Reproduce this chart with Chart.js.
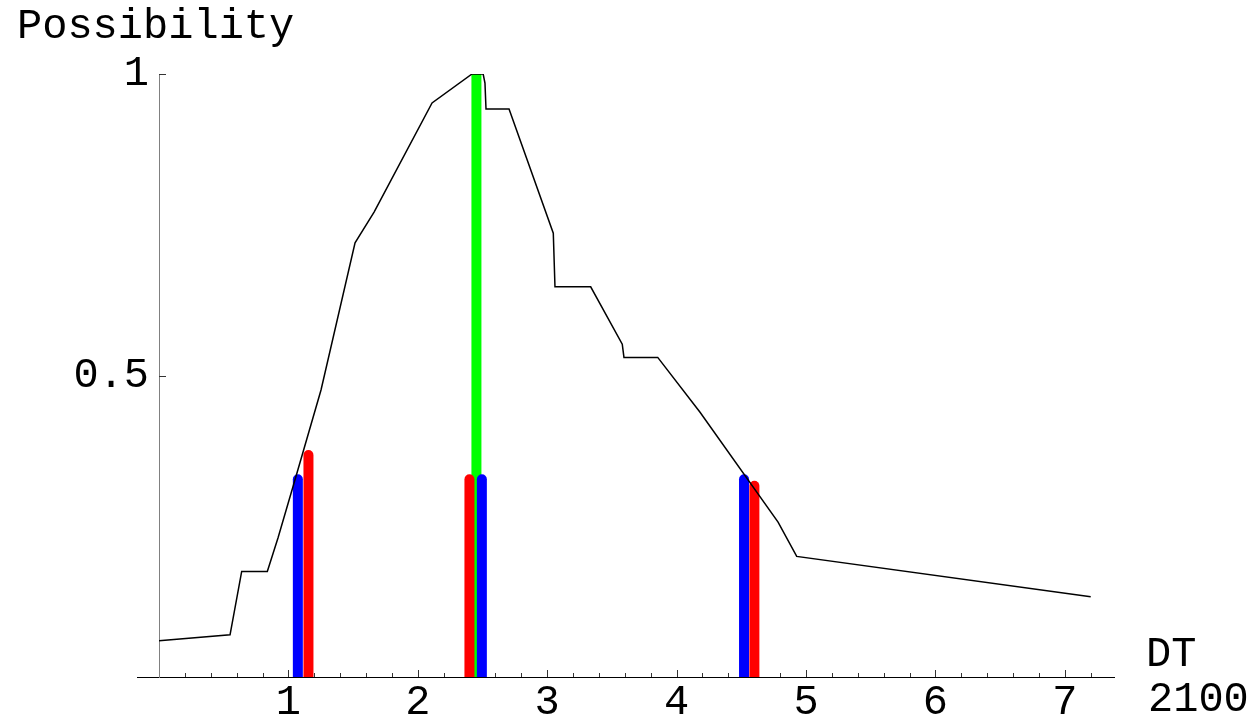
<!DOCTYPE html>
<html>
<head>
<meta charset="utf-8">
<script src="https://cdn.jsdelivr.net/npm/chart.js@4/dist/chart.umd.min.js"></script>
<style>
  html, body { margin: 0; padding: 0; background: #fff; }
  #wrap { width: 1252px; height: 720px; position: relative; }
</style>
</head>
<body>
<div id="wrap"><canvas id="c"></canvas></div>
<script>
// ---- data ----
const curveX = [0, 0.549, 0.639, 0.837, 0.920, 1.051, 1.252, 1.515, 1.662, 2.110, 2.419, 2.505, 2.519, 2.527, 2.705, 3.047, 3.060, 3.336, 3.580, 3.593, 3.854, 4.181, 4.784, 4.928, 7.200];
const curveY = [0.060, 0.070, 0.175, 0.175, 0.231, 0.327, 0.476, 0.720, 0.771, 0.952, 1.000, 1.000, 0.985, 0.942, 0.942, 0.736, 0.647, 0.647, 0.552, 0.530, 0.530, 0.439, 0.257, 0.200, 0.133];

const blueX   = [1.073, 2.495, 4.521];
const blueTop = [0.328, 0.328, 0.328];
const redX    = [1.155, 2.399, 4.601];
const redTop  = [0.368, 0.328, 0.317];
const greenX  = [2.453];
const greenTop = [1.0];

const xTickLabels = [1, 2, 3, 4, 5, 6, 7];
const yTickLabels = [0.5, 1];
const yTitle = 'Possibility';
const xTitle = ['DT', '2100'];

// ---- build datasets ----
const datasets = [];
datasets.push({
  label: 'possibility',
  data: curveX.map((x, i) => ({ x: x, y: curveY[i] })),
  showLine: true, borderColor: '#000', borderWidth: 1.5, pointRadius: 0, fill: false, tension: 0
});
function addBars(xs, tops, color) {
  xs.forEach((x, i) => {
    datasets.push({
      label: 'bar',
      data: [{ x: x, y: 0 }, { x: x, y: tops[i] }],
      showLine: true, borderColor: color, borderWidth: 10, borderCapStyle: 'round',
      pointRadius: 0, fill: false, clip: 0
    });
  });
}
addBars(redX, redTop, '#ff0000');
addBars(blueX, blueTop, '#0000ff');
addBars(greenX, greenTop, '#00ff00');

const FONT = '"Liberation Mono", "DejaVu Sans Mono", monospace';

const decor = {
  id: 'decor',
  beforeDatasetsDraw(chart) {
    const ctx = chart.ctx, xs = chart.scales.x, ys = chart.scales.y;
    const y0 = ys.getPixelForValue(0);
    const ax = xs.getPixelForValue(0);
    ctx.save();
    ctx.lineWidth = 1;
    // x axis continues a little to the left of the y axis
    ctx.strokeStyle = '#000';
    ctx.beginPath();
    ctx.moveTo(xs.getPixelForValue(-0.17), Math.round(y0) + 0.5);
    ctx.lineTo(ax, Math.round(y0) + 0.5);
    ctx.stroke();
    ctx.strokeStyle = '#333';
    // x ticks (inside, pointing up)
    for (let k = 1; k <= 36; k++) {
      const v = k / 5;
      const major = k % 5 === 0;
      const px = Math.round(xs.getPixelForValue(v)) + 0.5;
      ctx.beginPath();
      ctx.moveTo(px, y0);
      ctx.lineTo(px, y0 - (major ? 7 : 4));
      ctx.stroke();
    }
    // y ticks (inside, pointing right)
    yTickLabels.forEach(v => {
      const py = Math.round(ys.getPixelForValue(v)) + 0.5;
      ctx.beginPath();
      ctx.moveTo(ax, py);
      ctx.lineTo(ax + 7, py);
      ctx.stroke();
    });
    ctx.restore();
  },
  afterDraw(chart) {
    const ctx = chart.ctx, ca = chart.chartArea;
    ctx.save();
    ctx.fillStyle = '#000';
    ctx.font = '42px ' + FONT;
    ctx.textAlign = 'left';
    ctx.textBaseline = 'alphabetic';
    ctx.fillText(yTitle, 17, 38);
    ctx.fillText(xTitle[0], ca.right + 32, ca.bottom - 11);
    ctx.fillText(xTitle[1], ca.right + 34, ca.bottom + 34);
    ctx.restore();
  }
};

new Chart(document.getElementById('c'), {
  type: 'scatter',
  data: { datasets: datasets },
  plugins: [decor],
  options: {
    responsive: true,
    maintainAspectRatio: false,
    animation: false,
    devicePixelRatio: 1,
    layout: { padding: { top: 74, right: 138, left: 0, bottom: 0 } },
    plugins: { legend: { display: false }, tooltip: { enabled: false }, title: { display: false } },
    scales: {
      x: {
        type: 'linear', min: 0, max: 7.2 + 0.18,
        afterFit: s => { s.height = 43; },
        border: { display: true, color: '#000', width: 1 },
        grid: { display: false, drawTicks: false },
        ticks: {
          stepSize: 1, includeBounds: false, padding: 1, color: '#000',
          font: { family: FONT, size: 42 }, maxRotation: 0, autoSkip: false,
          callback: v => xTickLabels.includes(v) ? String(v) : ''
        }
      },
      y: {
        type: 'linear', min: 0, max: 1,
        afterFit: s => { s.width = 159; },
        border: { display: true, color: '#808080', width: 1 },
        grid: { display: false, drawTicks: false },
        ticks: {
          stepSize: 0.5, padding: 10, color: '#000',
          font: { family: FONT, size: 42 },
          callback: v => yTickLabels.includes(v) ? String(v) : ''
        }
      }
    }
  }
});
</script>
</body>
</html>
